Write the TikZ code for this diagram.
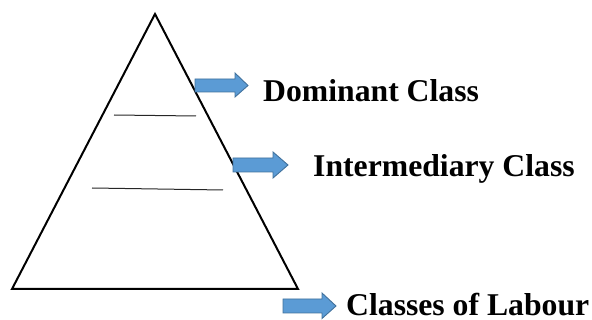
\documentclass[tikz,border=0pt]{standalone}
\usepackage{fontspec}
\setmainfont{Liberation Serif}
\begin{document}
\begin{tikzpicture}[x=1pt,y=-1pt,
  tri/.style={draw=black,line width=2pt,line join=miter},
  divider/.style={draw=black!85,line width=1pt},
  blockarrow/.style={fill={rgb,255:red,91;green,155;blue,213},draw={rgb,255:red,65;green,113;blue,156},line width=0.9pt},
  lbl/.style={anchor=base west,inner sep=0pt,text depth=0pt,font=\bfseries\fontsize{31.7}{38}\selectfont}]
\useasboundingbox (0,0) rectangle (592,320);
\coordinate (apex) at (155,14);
\coordinate (bl) at (12,289);
\coordinate (br) at (298,289);
\draw[tri] (apex) -- (bl) -- (br) -- cycle;
\coordinate (d1l) at (114,115);
\coordinate (d1r) at (196,116);
\coordinate (d2l) at (92,188);
\coordinate (d2r) at (223,190);
\draw[divider] (d1l) -- (d1r);
\draw[divider] (d2l) -- (d2r);
% arrows
\draw[blockarrow] (195,79) -- (235,79) -- (235,73) -- (248,85.5) -- (235,97) -- (235,92) -- (195,92) -- cycle;
\draw[blockarrow] (233,158) -- (273,158) -- (273,152) -- (288,165) -- (273,178) -- (273,172) -- (233,172) -- cycle;
\draw[blockarrow] (283,299) -- (322,299) -- (322,293) -- (336,306) -- (322,318.5) -- (322,313) -- (283,313) -- cycle;
\node[lbl] (dom) at (263,102) {Dominant Class};
\node[lbl] (int) at (313,177) {Intermediary Class};
\node[lbl] (lab) at (346,316) {Classes of Labour};
\end{tikzpicture}
\end{document}
